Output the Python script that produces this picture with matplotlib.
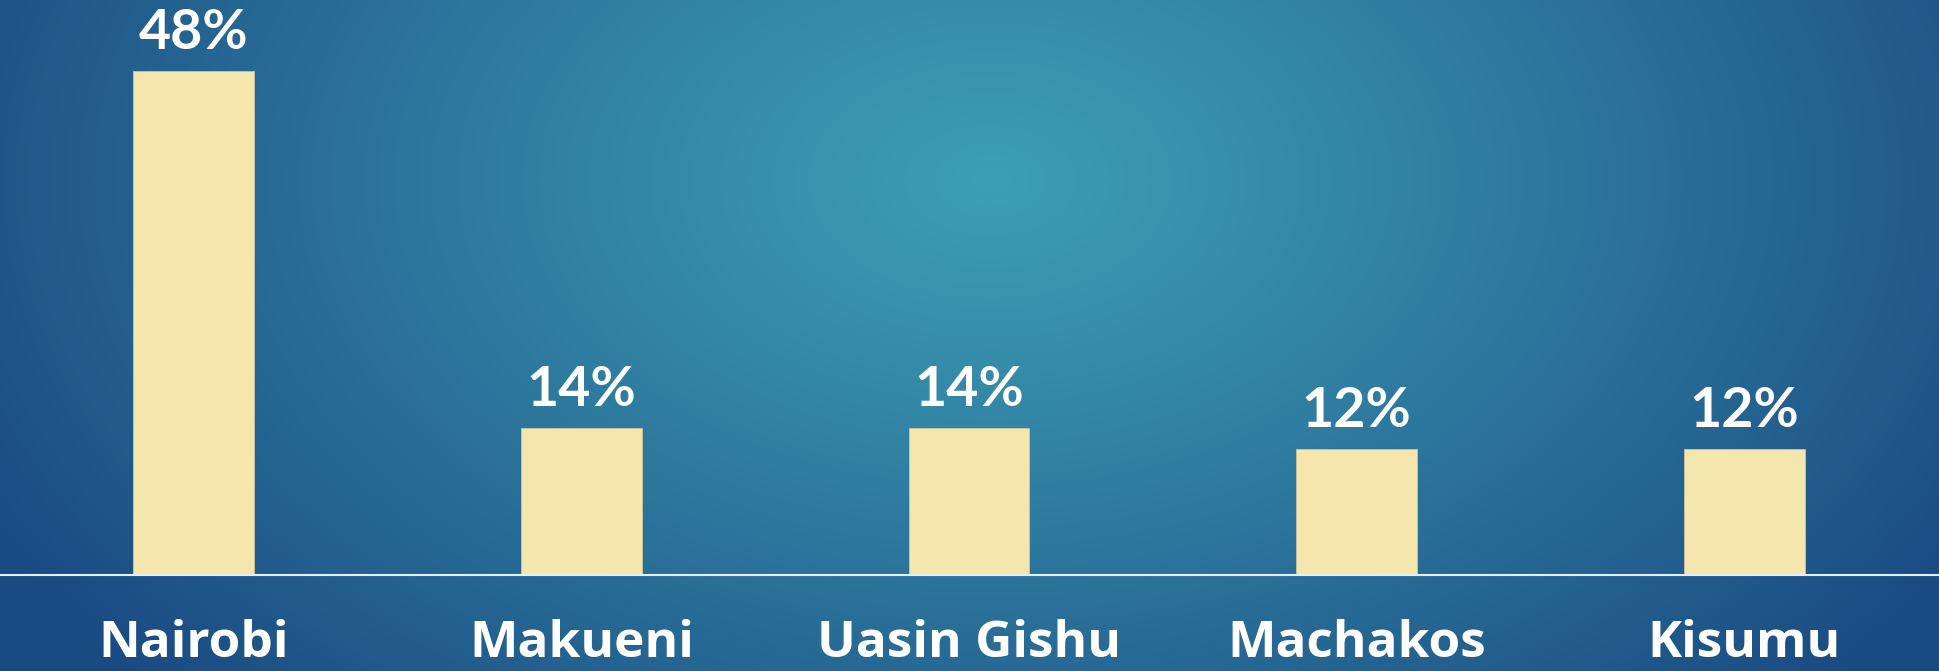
import matplotlib
matplotlib.use('Agg')
import matplotlib.pyplot as plt
import matplotlib.colors as colors
import numpy as np

counties = ['Nairobi', 'Makueni', 'Uasin Gishu', 'Machakos', 'Kisumu']
shares = [48, 14, 14, 12, 12]
labels = ['48%', '14%', '14%', '12%', '12%']

plt.rcParams['font.family'] = ['Open Sans', 'DejaVu Sans']

fig = plt.figure(figsize=(19.40, 6.71), dpi=100)

# background radial gradient
bg = fig.add_axes([0, 0, 1, 1], zorder=0)
h, w = 671, 1940
yy, xx = np.mgrid[0:h, 0:w]
r = np.sqrt(((xx - 990) / 1150.0) ** 2 + ((yy - 180) / 750.0) ** 2)
r = np.clip(r, 0, 1) ** 1.1
c0 = np.array(colors.to_rgb('#3d9eb4'))
c1 = np.array(colors.to_rgb('#1a4a82'))
img = c0[None, None, :] * (1 - r[..., None]) + c1[None, None, :] * r[..., None]
bg.imshow(img, aspect='auto', extent=[0, 1, 0, 1], origin='upper')
bg.axis('off')

ax = fig.add_axes([0, 96 / 671, 1938 / 1940, 575 / 671], zorder=1)
ax.patch.set_alpha(0)
x = np.arange(len(counties))
bars = ax.bar(x, shares, width=0.312, color='#f5e6ad', edgecolor='#cfc497', linewidth=0.6)
ax.set_xlim(-0.5, 4.5)
ax.set_ylim(0, 575 / 10.5)

for xi, v, lab in zip(x, shares, labels):
    ax.annotate(lab, (xi, v), xytext=(0, 16), textcoords='offset points',
                ha='center', va='baseline', color='white', fontsize=40, fontweight='bold',
                family=['Lato', 'DejaVu Sans'])

ax.set_xticks(x)
ax.set_xticklabels(counties, color='white', fontsize=37, fontweight='bold')
ax.tick_params(axis='x', length=0, pad=32)
ax.set_yticks([])
for s in ['top', 'left', 'right']:
    ax.spines[s].set_visible(False)
ax.spines['bottom'].set_color('#e8eef4')
ax.spines['bottom'].set_linewidth(1.5)

fig.savefig('out.png', dpi=100)
